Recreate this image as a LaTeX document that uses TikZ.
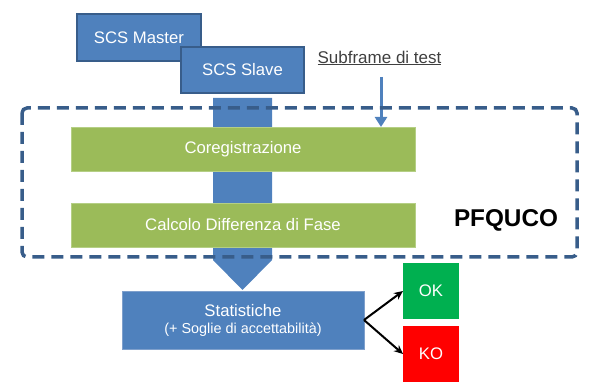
\documentclass[tikz,border=0pt]{standalone}
\usepackage{fontspec}
\setmainfont{Liberation Sans}
\usetikzlibrary{arrows.meta}
\definecolor{blu}{HTML}{4F81BD}
\definecolor{bludark}{HTML}{385D8A}
\definecolor{bluline}{HTML}{7FA0CC}
\definecolor{verde}{HTML}{9BBB59}
\definecolor{verdeline}{HTML}{B5CF85}
\definecolor{okgreen}{HTML}{00B050}
\definecolor{kored}{HTML}{FF0000}
\definecolor{txtgray}{HTML}{404040}
\begin{document}
\begin{tikzpicture}[x=1pt,y=-1pt,
  box/.style={inner sep=0pt, outer sep=0pt, text=white, align=center,
    font=\fontsize{16.7}{20}\selectfont},
  scsbox/.style={box, fill=blu, draw=bludark, line width=2pt},
  greenbox/.style={box, fill=verde, draw=verdeline, line width=0.8pt,
    minimum width=344pt, minimum height=44pt},
  resbox/.style={box, minimum width=56pt, minimum height=56pt}]
\useasboundingbox (0,0) rectangle (590,382);
% big downward arrow (shaft)
\fill[blu] (213,98) -- (272,98) -- (272,260) -- (242.5,290) -- (213,260) -- cycle;
% SCS boxes
\node[scsbox, minimum width=124pt, minimum height=47pt] (master) at (139,37.5) {SCS Master};
\node[scsbox, minimum width=123pt, minimum height=46pt] (slave) at (242.5,70) {SCS Slave};
% green steps
\node[greenbox] (coreg) at (243,149) {Coregistrazione};
\node[greenbox] (calc) at (243,225) {Calcolo Differenza di Fase};
% subframe label and arrow
\node[text=txtgray, font=\fontsize{17}{20}\selectfont, inner sep=0pt] (sub) at (379.5,58) {\underline{Subframe di test}};
\coordinate (subtip) at (381,77);
\draw[blu, line width=3pt, -{Triangle[width=12pt,length=10pt]}] (subtip) -- (subtip |- coreg.north);
% PFQUCO dashed frame
\draw[bludark, line width=3.5pt, dash pattern=on 12pt off 7pt, rounded corners=5pt] (22,108) rectangle (577,257);
\node[font=\fontsize{24.3}{28}\selectfont\bfseries, inner sep=0pt] (pfq) at (506,220) {PFQUCO};
% statistics
\node[box, fill=blu, draw=bluline, line width=0.8pt, minimum width=242pt, minimum height=58pt] (stat) at (243,320)
  {Statistiche\\[-3pt]{\fontsize{14.4}{17}\selectfont(+ Soglie di accettabilità)}};
\node[resbox, fill=okgreen] (ok) at (431,291) {OK};
\node[resbox, fill=kored] (ko) at (431,354) {KO};
\draw[black, line width=2pt, -{Stealth[length=9pt,width=8pt]}] (stat.east) -- (ok.west);
\draw[black, line width=2pt, -{Stealth[length=9pt,width=8pt]}] (stat.east) -- (ko.west);
\end{tikzpicture}
\end{document}
